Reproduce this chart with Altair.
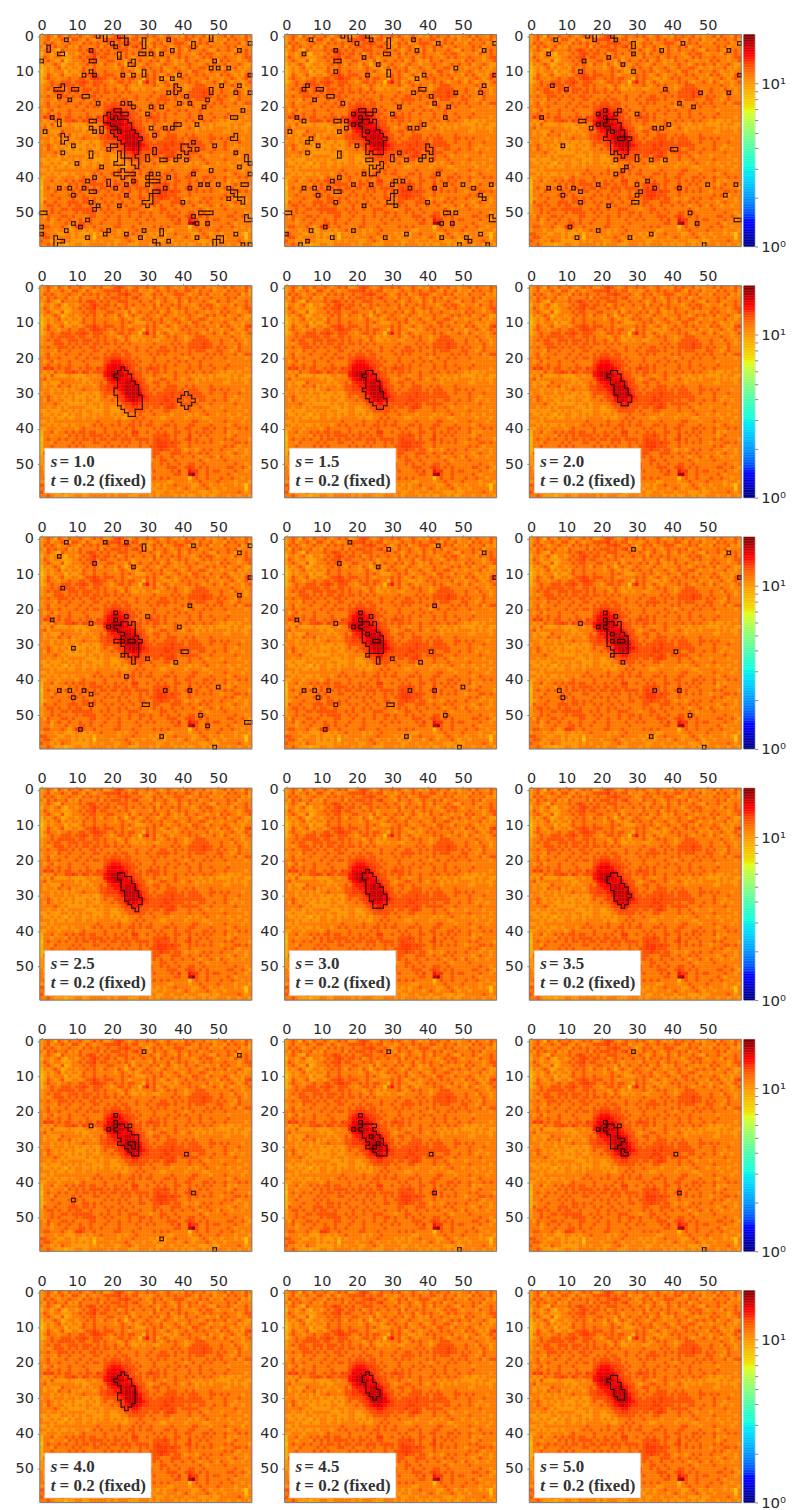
import altair as alt
import numpy as np
import pandas as pd

alt.data_transformers.disable_max_rows()

TICKS = [0, 10, 20, 30, 40, 50]
LEVELS = [8.3, 9.0, 10.0, 11.2, 12.8, 13.6, 14.5, 15.6, 17.0, 19.0]
S_LABELS = {3: "1.0", 4: "1.5", 5: "2.0", 9: "2.5", 10: "3.0", 11: "3.5", 15: "4.0", 16: "4.5", 17: "5.0"}

BACKGROUND = [
"2343143243 3432343422 3454323433 4343234323 2434334232 3342433243",
"2342334324 4324323344 4453434423 3234334343 3443243342 3324343342",
"2434323343 3243434334 3344543343 2343423344 4323343423 3243334232",
"3243433423 2433334243 4443434533 3243343234 3343423343 3334342333",
"2343214333 3434543434 3344433343 3432343324 3243334322 4334323343",
"1332342133 2343454344 3423434334 3342433434 3332343443 2333243343",
"2432332223 3434453443 3343432333 3243334234 3433234343 3343332344",
"2343224123 3343443334 4333242343 3434234323 2433433233 2434332334",
"1323431233 2334343243 3243134323 4332343323 3343323434 3342334322",
"1232342323 3243343333 3234323234 3433423343 2343344323 3233342323",
"0232333132 2343343343 3334343222 3343432334 3324433243 3343233233",
"1243234223 3234454344 4334323333 4343234323 3433434333 2434323245",
"1343323343 3443455443 3434344331 4343322323 4343333423 3233432343",
"1234334443 4454344433 2344343304 6342343233 3343432334 3243233234",
"2334344444 3443344343 3323432323 3343234343 3233444333 3333433233",
"2343443344 4344434343 3432432232 3322333343 3234444433 3433243323",
"2323444343 4344344344 3434343333 3343333434 3344445443 3433334323",
"3343344434 3433443433 3343333433 3433443343 4344445443 4343324333",
"2333243343 3343344334 3434433433 4334444343 3343444333 4433234333",
"2342333433 3433433343 4443443333 3434343333 4343333434 3433342344",
"3343343333 4334344344 5554443433 3343333343 3234334343 3343333323",
"3234233343 3343333345 6665544343 3343334334 3433343333 3332333333",
"3343343343 3334333356 7776554433 3434343343 3343343343 3334333333",
"3545343443 3434435457 7777654343 4544343333 3343343334 3343333323",
"3232433445 4354344467 8887655443 4344343343 3434334343 3232232333",
"2324222232 2223323367 8888765443 3343323343 3332323323 2222323322",
"3423333333 2322333346 7887776544 3233443343 2343232323 3332323223",
"3232224333 3323233435 6677887654 3344334333 3333233333 3322333323",
"3233243342 3233323445 5667888754 4334334443 3434333343 3333333333",
"3332323232 3343333445 5567888865 4343344443 4344433344 3434333233",
"2332333233 2322322344 4456888875 4434444544 4344443343 3343334333",
"3343232323 2223232343 3455788876 5444454544 4444444333 3343323333",
"3243233223 2323322333 4345678765 5444455444 4343344334 3343233233",
"3333432322 2223233233 3334556654 4444544543 4444433343 3333343333",
"3323323233 3332223233 2233445544 4344345543 3343343233 3233332333",
"2232223323 2323322233 2223344444 3433344333 3343334333 3343333323",
"3223232132 3322323233 2323233343 3343333233 3323233433 2332332333",
"3332322322 3323323333 3232233434 3333223333 3233332233 3333233323",
"2232333333 3333334333 3343334343 3433333433 3334433323 3343333233",
"3323232232 3332343433 4343344343 4433344343 3344333343 3332343333",
"2233323333 2343333343 3333434333 3343433343 3443334434 3343334343",
"1334233434 3443443343 3434335533 4334343344 3343434343 3342323333",
"1332333243 4343444434 3443434433 3344454343 3353343433 3332343333",
"0343343433 4344343443 4434443444 4345444343 3453433343 3343433332",
"1332433334 3433344334 3334343343 4345554544 3343434343 3233344343",
"1334333343 4343333343 4343433343 3445554443 3343333333 3343432333",
"1233343334 3344343433 3343343344 3344544344 3233234343 3433323323",
"1433433344 4344343343 4334334333 3344333444 3343343433 3332343323",
"2344343343 4433433334 3343433343 3343433433 4334323343 2433233233",
"2334334434 4444433434 3343344433 3233443343 3333343233 3343333333",
"2334343333 4344443343 4333343344 3433434334 3344334333 3333343323",
"3243334434 3333443334 3343343343 3433334443 3454343433 3334433432",
"3342343343 3433433343 3343333433 4343333435 3365533434 4333343323",
"3332333433 3443433433 3343333343 3333333344 3389433433 3334323333",
"3443334323 5543343333 3443334333 3343434333 3303433433 3433433233",
"2333233222 3323233433 3323233433 3333332233 3323343333 4333323332",
"4433322332 3222313233 3323334333 3232323343 3332234323 3233323203",
"3443233332 3232303333 2333432332 3323323332 3432333432 3323333303",
"4332324332 2222323233 3223343233 3332233233 3233322232 2333334323",
"3343222122 3322333332 3233322233 3232333323 2322332322 3332332332",
]

# Outlined cells of each panel: isolated (column, row) cells plus a {row: columns} central region.
P1_CELLS = [(16,0),(18,0),(18,1),(22,0),(23,0),(7,1),(24,1),(24,2),(20,2),(21,3),(29,1),(29,2),(29,3),(36,1),(43,2),(43,3),(48,0),(48,1),(59,2),(2,3),(2,4),(14,4),(37,4),(56,4),(5,5),(6,5),(22,5),(22,6),(28,5),(29,5),(31,5),(34,5),(0,7),(14,7),(15,7),(26,7),(25,8),(26,8),(49,7),(48,9),(50,9),(53,9),(14,10),(15,11),(12,11),(23,11),(26,11),(29,10),(29,11),(34,12),(37,12),(39,11),(59,11),(51,14),(56,14),(4,15),(5,15),(6,15),(6,14),(9,15),(10,15),(38,14),(38,15),(38,16),(39,15),(48,15),(48,16),(36,16),(55,16),(59,16),(5,17),(12,17),(13,17),(41,17),(47,18),(8,18),(16,19),(23,19),(25,19),(39,19),(42,19),(31,20),(34,20),(26,20),(46,20),(57,21),(30,22),(45,23),(3,23),(54,23),(55,23),(5,24),(5,25),(14,24),(15,24),(14,26),(15,27),(17,26),(17,27),(31,26),(35,26),(37,26),(38,25),(39,25),(44,25),(1,27),(6,28),(6,29),(7,29),(6,30),(32,28),(9,31),(55,28),(55,29),(54,29),(43,30),(49,31),(40,31),(41,31),(40,32),(41,32),(42,32),(41,33),(44,32),(32,32),(32,33),(6,33),(14,33),(14,34),(55,33),(24,34),(30,34),(30,35),(34,35),(35,35),(38,35),(39,34),(41,35),(58,34),(58,35),(59,36),(10,36),(17,37),(56,37),(48,38),(33,39),(43,39),(59,39),(13,41),(15,40),(36,40),(19,41),(19,42),(26,41),(30,40),(31,39),(31,41),(32,41),(33,41),(24,42),(30,42),(45,42),(47,42),(50,42),(57,42),(58,42),(5,43),(8,43),(12,43),(21,43),(35,43),(42,43),(53,43),(14,44),(15,44),(32,44),(33,44),(54,44),(55,44),(55,45),(9,45),(24,45),(31,45),(31,46),(53,46),(56,46),(57,46),(57,47),(14,47),(40,47),(29,47),(30,47),(31,47),(30,48),(16,48),(15,49),(22,48),(0,50),(1,50),(45,50),(46,50),(47,50),(48,50),(43,51),(58,51),(58,52),(59,52),(13,52),(44,53),(47,53),(9,53),(11,54),(0,54),(0,56),(7,55),(19,55),(18,56),(29,55),(34,55),(34,56),(24,56),(55,56),(4,57),(13,57),(28,57),(44,57),(50,57),(51,57),(51,58),(32,58),(33,59),(4,58),(5,58),(6,58),(4,59),(36,58),(49,58),(49,59),(57,59),(59,59)]
P1_BLOCK = {21:[21,22],22:[19,23,24],23:[18,19,21],24:[18,19,20,21,22,23,24],25:[20,21,22,23,24,25],26:[22,23,24,25],27:[20,21,23,24,25,26],28:[21,22,23,24,25,26,27],29:[22,23,24,25,26,27,28],30:[23,24,25,26,27],31:[20,21,24,25,26,27],32:[19,24,25,26,27],33:[22,24,25,26,27],34:[22,25,26],35:[22,23,26,27],36:[21,22,23,26,27],37:[27],38:[23],39:[21,22,23,24,25,26],40:[23]}

P2_CELLS = [(16,0),(18,0),(18,1),(23,0),(24,1),(7,1),(20,2),(29,1),(29,2),(29,3),(36,1),(43,2),(59,2),(14,4),(37,4),(56,4),(5,5),(28,5),(29,5),(22,6),(14,7),(15,7),(26,8),(48,9),(14,10),(29,10),(29,11),(23,11),(59,11),(37,12),(39,11),(6,14),(5,15),(9,15),(10,15),(38,15),(39,15),(56,14),(36,16),(48,16),(55,16),(12,17),(13,17),(41,17),(8,18),(42,19),(16,19),(32,20),(46,20),(30,22),(3,23),(45,23),(5,24),(14,24),(15,24),(17,24),(19,25),(17,26),(35,26),(37,26),(39,25),(15,27),(1,27),(7,29),(6,30),(9,31),(20,31),(40,31),(40,32),(41,32),(41,33),(6,33),(32,33),(15,33),(15,34),(30,34),(30,35),(39,34),(38,35),(34,35),(41,35),(43,39),(15,40),(13,41),(31,41),(33,41),(19,42),(24,42),(30,42),(45,42),(50,42),(58,42),(5,43),(8,43),(12,43),(35,43),(42,43),(53,43),(14,44),(15,44),(31,44),(9,45),(55,45),(56,46),(30,45),(30,46),(30,47),(29,47),(14,47),(40,47),(22,48),(31,48),(0,50),(1,50),(45,50),(46,50),(48,50),(58,51),(58,52),(59,52),(44,53),(47,53),(11,54),(7,55),(19,55),(0,56),(34,56),(55,56),(13,57),(28,57),(44,57),(51,57),(52,58),(6,58),(4,59),(49,59),(57,59),(21,21),(22,21),(25,21),(23,22),(24,22),(19,22),(21,23),(21,25)]
P2_BLOCK = {24:[22,23,25],25:[22,23,24,25],26:[22,23,24,25],27:[22,24,25,26],28:[22,23,24,25,26,27],29:[23,24,25,26,27,28],30:[24,25,26,27],31:[23,24,25,26,27],32:[23,24,25,26,27],33:[23,25,26,27],35:[23,24],36:[27],37:[24,26,27],38:[24,25,26],39:[22,24,25]}

P3_CELLS = [(16,0),(18,0),(18,1),(23,0),(24,1),(7,1),(29,2),(29,3),(43,2),(59,2),(37,4),(56,4),(5,5),(29,5),(22,6),(15,7),(26,8),(14,10),(29,10),(59,11),(6,14),(10,15),(38,15),(48,16),(56,16),(42,19),(46,20),(21,21),(25,21),(19,22),(24,22),(30,22),(21,23),(19,25),(3,23),(14,24),(15,24),(17,26),(35,26),(37,26),(39,25),(9,31),(40,32),(41,32),(24,35),(30,34),(30,35),(34,35),(38,35),(27,37),(26,38),(24,39),(33,41),(19,42),(30,42),(50,42),(58,42),(5,43),(8,43),(12,43),(35,43),(42,43),(14,44),(31,44),(9,45),(30,45),(55,45),(14,47),(29,47),(30,47),(22,48),(45,50),(58,52),(59,52),(47,53),(11,54),(19,55),(34,56),(13,57),(28,57),(49,59)]
P3_BLOCK = {24:[22,23,24],25:[21,22,23,24,25],26:[23,24,25],27:[22,24,25,26],28:[22,23,24,25,26],29:[21,22,23,24,27,28],30:[23,24,25,26,27],31:[23,24,25,26,27],32:[23,24,25,26,27],33:[23,25,26,27],34:[26]}

S10_BLOCK = {23:[23],24:[22,23,24],25:[21,22,23,24,25],26:[22,23,24,25],27:[22,23,24,25,26],28:[22,23,24,25,26,27],29:[21,22,23,24,25,26,27],30:[21,22,23,24,25,26,27],31:[22,23,24,25,26,27,28],32:[22,23,24,25,26,27,28],33:[22,23,24,25,26,27,28],34:[23,24,25,26,27,28],35:[24,25,26],36:[25,26]}
S10_SECOND = {30:[41],31:[40,41,42],32:[39,40,41,42,43],33:[40,41,42],34:[41]}
S15_BLOCK = {24:[23,24],25:[22,23,24,25],26:[23,24,25],27:[23,24,25,26],28:[23,24,25,26],29:[22,23,24,25,26],30:[23,24,25,26,27],31:[23,24,25,26,27],32:[24,25,26,27,28],33:[25,26,27,28],34:[26,27]}
S20_BLOCK = {24:[23,24],25:[22,23,24,25],26:[23,24,25],27:[23,24,25,26],28:[24,25,26],29:[24,25,26,27],30:[24,25,26,27],31:[25,26,27,28],32:[25,26,27,28],33:[26,27]}

P7_CELLS = [(7,1),(18,1),(24,1),(29,2),(29,3),(43,2),(59,2),(56,4),(5,5),(15,7),(26,8),(59,11),(6,14),(56,16),(42,19),(21,21),(24,22),(30,22),(3,23),(21,23),(14,24),(19,25),(39,25),(9,31),(40,32),(41,32),(23,33),(30,34),(38,35),(24,39),(50,42),(5,43),(8,43),(12,43),(35,43),(42,43),(14,44),(9,45),(14,47),(29,47),(30,47),(45,50),(58,52),(59,52),(47,53),(11,54),(34,56),(49,59)]
P7_BLOCK = {24:[23,24,26],25:[21,22,23,24,25,26],26:[22,23,24,25,26],27:[24,25,26],28:[23,24,25,26,27],29:[21,22,24,27,28],30:[23,24,25,26,27],31:[24,25,26,27],32:[24,25,26,27],33:[25,26,27],34:[26],35:[26]}

P8_CELLS = [(18,1),(29,3),(43,2),(56,4),(15,7),(26,8),(59,11),(42,19),(21,21),(24,22),(3,23),(21,23),(14,24),(19,25),(41,32),(23,33),(30,34),(38,35),(26,34),(26,35),(50,42),(5,43),(8,43),(12,43),(35,43),(42,43),(9,45),(14,47),(29,47),(30,47),(45,50),(11,54),(34,56),(49,59)]
P8_BLOCK = {24:[22,23,25],25:[21,22,23,24,25],26:[22,23,24,25],27:[22,24,25,26],28:[22,23,24,25,26,27],29:[22,23,24,27],30:[23,24,25,26,27],31:[24,25,26,27],32:[24,25,26,27]}

P9_CELLS = [(29,3),(56,4),(59,11),(21,21),(24,22),(21,23),(14,24),(19,25),(41,32),(23,33),(26,35),(8,43),(35,43),(42,43),(9,45),(45,50),(34,56),(49,59)]
P9_BLOCK = {24:[22,23,25],25:[21,22,23,24,25],26:[22,23,24,25],27:[22,24,25,26],28:[22,23,24,25,26,27],29:[22,24,27],30:[22,23,24,25,26,27],31:[23,24,25,26,27],32:[24,25,26,27]}

S25_BLOCK = {24:[22,23],25:[22,23,24,25],26:[23,24,25],27:[23,24,25,26],28:[23,24,25,26],29:[24,25,26,27],30:[24,25,26,27],31:[24,25,26,27,28],32:[25,26,27,28],33:[26,27],34:[27]}
S30_BLOCK = {23:[23],24:[22,23,24],25:[22,23,24,25],26:[23,24,25],27:[23,24,25,26],28:[23,24,25,26,27],29:[23,24,25,26,27],30:[24,25,26,27,28],31:[24,25,26,27,28],32:[25,26,27,28],33:[25,26,27]}
S35_BLOCK = {24:[23,24],25:[22,23,24,25],26:[22,23,24,25],27:[23,24,25,26],28:[23,24,25,26,27],29:[24,25,26,27],30:[24,25,26,27,28],31:[24,25,26,27],32:[25,26,27],33:[26]}

P13_CELLS = [(29,3),(56,4),(21,21),(21,23),(14,24),(25,24),(19,25),(41,32),(43,43),(9,45),(34,56),(49,59),(22,27),(23,27),(22,29),(23,29)]
P13_BLOCK = {24:[22,23],25:[21,22,23,24],26:[22,23,24,25],27:[24,25,26,27],28:[23,24,25,26,27],29:[24,27],30:[24,25,27],31:[25,26,27],32:[26,27]}
P14_CELLS = [(29,3),(21,21),(21,23),(25,24),(19,25),(41,32),(42,43),(49,59),(22,27),(23,27)]
P14_BLOCK = {24:[22,23,24],25:[21,22,23,24],26:[22,23,24,25],27:[25,26],28:[23,24,25,26,27],29:[24,25,27],30:[23,24,26,27,28],31:[25,26,27,28],32:[26,27,28]}
P15_CELLS = [(29,3),(21,23),(25,24),(19,25),(41,32),(42,43),(49,59)]
P15_BLOCK = {24:[22,23],25:[21,22,23,24],26:[22,23,24],27:[23,24],28:[23,24,25,26],29:[23,24,25],30:[23,24],31:[26],32:[26,27]}

S40_BLOCK = {23:[23],24:[22,23,24],25:[21,22,23,24,25],26:[22,23,24,25],27:[23,24,25,26],28:[23,24,25,26],29:[22,23,24,25,26],30:[22,23,24,25,26],31:[23,24,25,26],32:[23,24,25],33:[24]}
S45_BLOCK = {23:[23],24:[22,23,24],25:[22,23,24],26:[23,24,25],27:[23,24,25],28:[23,24,25,26],29:[24,25,26],30:[25]}
S50_BLOCK = {24:[23,24],25:[22,23,24],26:[23,24,25],27:[23,24,25],28:[24,25,26],29:[24,25,26],30:[25,26]}

PANELS = [
    (P1_CELLS, P1_BLOCK), (P2_CELLS, P2_BLOCK), (P3_CELLS, P3_BLOCK),
    ([], S10_BLOCK), ([], S15_BLOCK), ([], S20_BLOCK),
    (P7_CELLS, P7_BLOCK), (P8_CELLS, P8_BLOCK), (P9_CELLS, P9_BLOCK),
    ([], S25_BLOCK), ([], S30_BLOCK), ([], S35_BLOCK),
    (P13_CELLS, P13_BLOCK), (P14_CELLS, P14_BLOCK), (P15_CELLS, P15_BLOCK),
    ([], S40_BLOCK), ([], S45_BLOCK), ([], S50_BLOCK),
]
EXTRA_BLOCKS = {3: S10_SECOND}

# matplotlib jet, as colour stops over the log range 1 .. 20
VMAX = 20.0
STOPS = [0, .11, .125, .34, .35, .375, .64, .65, .66, .89, .91, 1]
JET = ["#00007f", "#0000ff", "#0000ff", "#00e5f7", "#00e5f0", "#19ffe0", "#e0ff16", "#e8f000", "#f0e000", "#ff1500", "#ff0000", "#7f0000"]
color_scale = alt.Scale(type="log", domain=[float(VMAX ** s) for s in STOPS], range=JET, clamp=True)

W, H = 213, 213
x_scale = alt.Scale(domain=[-0.5, 59.5], nice=False, zero=False)
y_scale = alt.Scale(domain=[59.5, -0.5], nice=False, zero=False)
AXIS_STYLE = dict(values=TICKS, title=None, grid=False, labelFontSize=14.5, labelFont="DejaVu Sans",
                  labelColor="#2b2b2b", tickColor="#808080", domainColor="#808080",
                  labelFlush=False, labelOverlap=False)

rows = []
for r, row in enumerate(BACKGROUND):
    digits = row.replace(" ", "")[:60].ljust(60, "3")
    for c, d in enumerate(digits):
        rows.append({"x": c - .5, "x2": c + .5, "y": r - .5, "y2": r + .5, "v": LEVELS[int(d)]})
heat_df = pd.DataFrame(rows)
frame_df = pd.DataFrame({"x": [-.5], "x2": [59.5], "y": [-.5], "y2": [59.5]})
box_df = pd.DataFrame({"x": [0.9], "x2": [31.0], "y": [45.5], "y2": [58.2]})


def edges(cells, block, extra=None):
    cs = set(cells)
    for src in [block] + ([extra] if extra else []):
        for r, cols in src.items():
            for c in cols:
                cs.add((c, int(r)))
    seg = []
    for c, r in cs:
        if (c, r - 1) not in cs:
            seg.append((c - .5, c + .5, r - .5, r - .5))
        if (c, r + 1) not in cs:
            seg.append((c - .5, c + .5, r + .5, r + .5))
        if (c - 1, r) not in cs:
            seg.append((c - .5, c - .5, r - .5, r + .5))
        if (c + 1, r) not in cs:
            seg.append((c + .5, c + .5, r - .5, r + .5))
    return pd.DataFrame(seg, columns=["x", "x2", "y", "y2"])


def panel(i):
    cells, block = PANELS[i]
    heat = alt.Chart(heat_df).mark_rect(strokeWidth=0.4).encode(
        x=alt.X("x:Q", scale=x_scale, axis=alt.Axis(orient="top", tickSize=2, labelPadding=0.5, **AXIS_STYLE)),
        x2="x2:Q",
        y=alt.Y("y:Q", scale=y_scale, axis=alt.Axis(orient="left", tickSize=2.5, labelPadding=4, **AXIS_STYLE)),
        y2="y2:Q",
        color=alt.Color("v:Q", scale=color_scale, legend=None),
        stroke=alt.Stroke("v:Q", scale=color_scale, legend=None),
    )
    outline = alt.Chart(edges(cells, block, EXTRA_BLOCKS.get(i))).mark_rule(
        color="#1c0a05", strokeWidth=1.0, strokeCap="square"
    ).encode(x="x:Q", x2="x2:Q", y="y:Q", y2="y2:Q")
    frame = alt.Chart(frame_df).mark_rect(filled=False, stroke="#808080", strokeWidth=1).encode(
        x="x:Q", x2="x2:Q", y="y:Q", y2="y2:Q")
    layers = [heat, outline, frame]
    if i in S_LABELS:
        box = alt.Chart(box_df).mark_rect(fill="white", stroke="#d0d0d0", strokeWidth=0.6).encode(
            x="x:Q", x2="x2:Q", y="y:Q", y2="y2:Q")
        tdf = lambda x, y, t: pd.DataFrame({"x": [x], "y": [y], "t": [t]})
        font = dict(font="Liberation Serif", fontSize=17, fontWeight="bold", color="#333333", align="left", baseline="middle")
        layers += [
            box,
            alt.Chart(tdf(2.6, 49.4, "s")).mark_text(fontStyle="italic", **font).encode(x="x:Q", y="y:Q", text="t:N"),
            alt.Chart(tdf(5.1, 49.4, "= " + S_LABELS[i])).mark_text(**font).encode(x="x:Q", y="y:Q", text="t:N"),
            alt.Chart(tdf(2.6, 54.8, "t")).mark_text(fontStyle="italic", **font).encode(x="x:Q", y="y:Q", text="t:N"),
            alt.Chart(tdf(5.1, 54.8, "= 0.2 (fixed)")).mark_text(**font).encode(x="x:Q", y="y:Q", text="t:N"),
        ]
    return alt.layer(*layers).properties(width=W, height=H)


edges_cb = np.geomspace(1, VMAX, 129)
cb_df = pd.DataFrame({"lo": edges_cb[:-1], "hi": edges_cb[1:], "v": np.sqrt(edges_cb[:-1] * edges_cb[1:])})


def colorbar():
    return alt.Chart(cb_df).mark_rect(strokeWidth=0.4).encode(
        x=alt.value(0), x2=alt.value(11),
        y=alt.Y("lo:Q", scale=alt.Scale(type="log", domain=[1, VMAX], nice=False),
                axis=alt.Axis(orient="right", values=[1, 2, 3, 4, 5, 6, 7, 8, 9, 10], title=None, grid=False,
                              labelExpr="datum.value==1?'10⁰':datum.value==10?'10¹':''",
                              labelFontSize=15, labelFont="DejaVu Sans", labelColor="#2b2b2b",
                              tickColor="#808080", tickSize=3, domain=False, labelPadding=3, labelOverlap=False)),
        y2="hi:Q",
        color=alt.Color("v:Q", scale=color_scale, legend=None),
        stroke=alt.Stroke("v:Q", scale=color_scale, legend=None),
    ).properties(width=11, height=H)


grid_rows = []
for k in range(6):
    last = alt.hconcat(panel(3 * k + 2), colorbar(), spacing=2.5, bounds="flush")
    grid_rows.append(alt.hconcat(panel(3 * k), panel(3 * k + 1), last, spacing=33, bounds="flush"))

chart = alt.vconcat(*grid_rows, spacing=12.5).properties(
    padding={"left": 6, "top": 4.8, "right": 0, "bottom": 0}
).resolve_scale(color="shared", stroke="shared").configure_view(stroke=None).configure(background="white")

chart.save("out.html", embed_options={"renderer": "svg", "actions": False})
